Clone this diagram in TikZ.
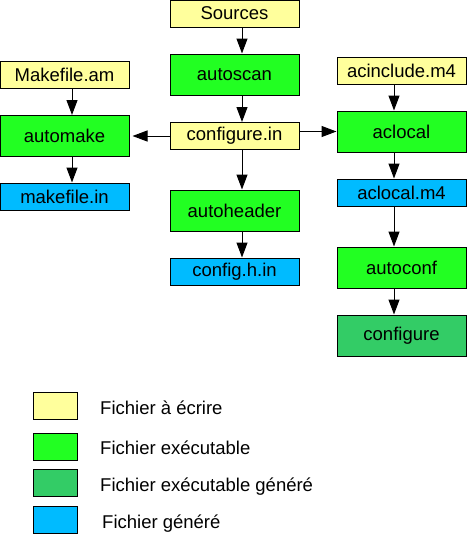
\documentclass[tikz,border=0pt]{standalone}
\usepackage{fontspec}
\setmainfont{Liberation Sans}
\usetikzlibrary{arrows.meta}
\definecolor{ecrire}{HTML}{FFFF9C}
\definecolor{exec}{HTML}{22FF22}
\definecolor{execgen}{HTML}{33CC66}
\definecolor{genere}{HTML}{00BBFF}
\begin{document}
\begin{tikzpicture}[x=1pt,y=-1pt,
        box/.style={draw,line width=1pt,minimum width=129pt,inner sep=0pt,font=\fontsize{18.5}{22}\selectfont},
        boxflat/.style={box,minimum height=27pt},
        boxtall/.style={box,minimum height=41pt},
        legbox/.style={draw,line width=1pt,minimum width=44pt,minimum height=27pt,inner sep=0pt},
        legtxt/.style={anchor=base west,inner sep=0pt,font=\fontsize{18.5}{22}\selectfont},
        fleche/.style={line width=1pt,-{Triangle[length=15pt,width=11pt]}}]
        \useasboundingbox (0,0) rectangle (468,541);
        % colonne du milieu
        \node[boxflat,fill=ecrire] (src) at (234.5,13.5) {Sources};
        \node[boxtall,fill=exec] (autoscan) at (234.5,74.5) {autoscan};
        \node[boxflat,fill=ecrire] (cfgin) at (234.5,136) {configure.in};
        \node[boxtall,fill=exec] (autoheader) at (234.5,210.5) {autoheader};
        \node[boxflat,fill=genere] (cfghin) at (234.5,271.5) {config.h.in};
        % colonne de gauche
        \node[boxflat,fill=ecrire] (mkam) at (64.5,74.5) {Makefile.am};
        \node[boxtall,fill=exec] (automake) at (64.5,136) {automake};
        \node[boxflat,fill=genere] (mkin) at (64.5,196.5) {makefile.in};
        % colonne de droite
        \node[boxflat,fill=ecrire] (acinc) at (401.5,70.5) {acinclude.m4};
        \node[boxtall,fill=exec] (aclocal) at (401.5,131.5) {aclocal};
        \node[boxflat,fill=genere] (aclm4) at (401.5,192.5) {aclocal.m4};
        \node[boxtall,fill=exec] (autoconf) at (401.5,267.5) {autoconf};
        \node[boxtall,fill=execgen] (configure) at (401.5,335.5) {configure};
        % fleches
        \draw[fleche] ([xshift=7.5pt]src.south) -- ([xshift=7.5pt]autoscan.north);
        \draw[fleche] ([xshift=7.5pt]autoscan.south) -- ([xshift=7.5pt]cfgin.north);
        \draw[fleche] ([xshift=7.5pt]cfgin.south) -- ([xshift=7.5pt]autoheader.north);
        \draw[fleche] ([xshift=7.5pt]autoheader.south) -- ([xshift=7.5pt]cfghin.north);
        \draw[fleche] ([xshift=7.5pt]mkam.south) -- ([xshift=7.5pt]automake.north);
        \draw[fleche] ([xshift=7.5pt]automake.south) -- ([xshift=7.5pt]mkin.north);
        \draw[fleche] ([xshift=-7.5pt]acinc.south) -- ([xshift=-7.5pt]aclocal.north);
        \draw[fleche] ([xshift=-7.5pt]aclocal.south) -- ([xshift=-7.5pt]aclm4.north);
        \draw[fleche] ([xshift=-7.5pt]aclm4.south) -- ([xshift=-7.5pt]autoconf.north);
        \draw[fleche] ([xshift=-7.5pt]autoconf.south) -- ([xshift=-7.5pt]configure.north);
        \draw[fleche,shorten >=3pt] (cfgin.west) -- (automake.east);
        \draw[fleche] (cfgin.east |- aclocal) -- (aclocal.west);
        % legende
        \node[legbox,fill=ecrire] (leg1) at (55,405.5) {};
        \node[legbox,fill=exec] (leg2) at (55,446.5) {};
        \node[legbox,fill=execgen] (leg3) at (55,483) {};
        \node[legbox,fill=genere] (leg4) at (55,519.5) {};
        \node[legtxt] (txt1) at (100,414.5) {Fichier à écrire};
        \node[legtxt] (txt2) at (100,454) {Fichier exécutable};
        \node[legtxt] (txt3) at (100,491) {Fichier exécutable généré};
        \node[legtxt] (txt4) at (102,528.5) {Fichier généré};
    \end{tikzpicture}
\end{document}
